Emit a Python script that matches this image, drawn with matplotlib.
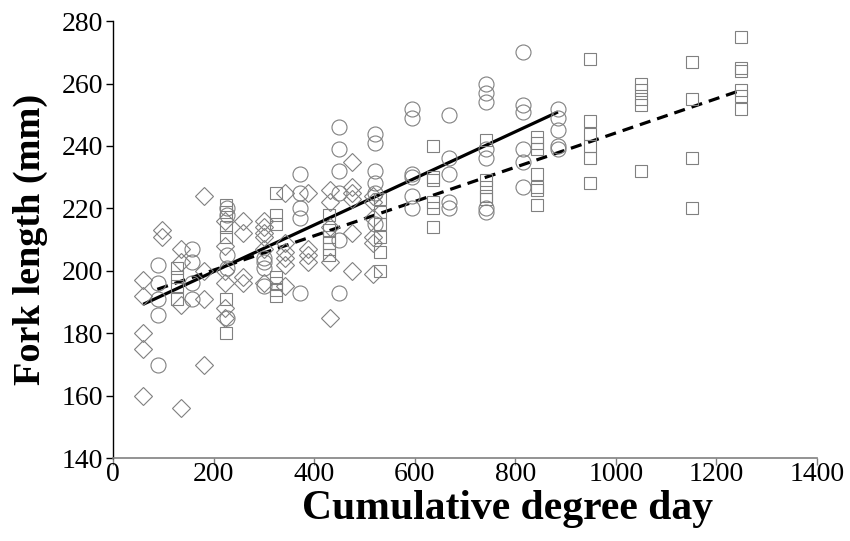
import numpy as np
import matplotlib
matplotlib.use("Agg")
import matplotlib.pyplot as plt

plt.rcParams["font.family"] = ["Liberation Serif", "DejaVu Serif"]

# diamonds: (cumulative degree day, fork length)
dia_x = [60] * 5 + [97] * 2 + [135] * 4 + [180] * 4 + [223] * 6 + [258] * 4 \
    + [300] * 6 + [343] * 6 + [388] * 4 + [431] * 5 + [475] * 6 + [518] * 6
dia_y = [197, 192, 180, 175, 160,
         213, 211,
         207, 203, 189, 156,
         224, 200, 191, 170,
         216, 208, 200, 196, 188, 185,
         216, 212, 198, 196,
         216, 214, 212, 211, 207, 196,
         225, 209, 206, 204, 202, 195,
         225, 207, 205, 203,
         226, 222, 214, 203, 185,
         235, 227, 225, 223, 212, 200,
         224, 222, 217, 211, 209, 199]

# circles
cir_x = [90] * 5 + [157] * 4 + [226] * 5 + [300] * 4 + [372] * 5 + [450] * 6 \
    + [521] * 6 + [594] * 6 + [668] * 5 + [742] * 7 + [815] * 6 + [885] * 5
cir_y = [202, 196, 191, 186, 170,
         207, 203, 196, 191,
         220, 218, 205, 201, 185,
         204, 203, 201, 195,
         231, 225, 220, 217, 193,
         246, 239, 232, 225, 210, 193,
         244, 241, 232, 228, 225, 215,
         252, 249, 231, 230, 224, 220,
         250, 236, 231, 222, 220,
         260, 257, 254, 239, 236, 220, 219,
         270, 253, 251, 239, 235, 227,
         252, 249, 245, 240, 239]

# squares
sq_x = [128] * 4 + [225] * 6 + [325] * 7 + [430] * 6 + [531] * 6 + [636] * 6 \
    + [742] * 5 + [843] * 7 + [948] * 6 + [1050] * 5 + [1151] * 4 + [1250] * 6
sq_y = [201, 198, 195, 191,
        221, 219, 214, 211, 191, 180,
        225, 218, 215, 198, 196, 194, 192,
        218, 213, 211, 209, 207, 205,
        223, 219, 215, 211, 206, 200,
        240, 230, 229, 222, 220, 214,
        242, 229, 227, 224, 223,
        243, 241, 239, 231, 227, 226, 221,
        268, 248, 244, 240, 236, 228,
        260, 258, 255, 253, 232,
        267, 255, 236, 220,
        275, 265, 264, 258, 256, 252]

# fitted lines (end points)
solid_x = [60, 885]
solid_y = [189.3, 250.9]
dash_x = [88, 1250]
dash_y = [194.1, 257.9]

xticks = np.arange(0, 1401, 200)
yticks = np.arange(140, 281, 20)

grey = "#808080"

fig = plt.figure(figsize=(8.5, 5.41), dpi=100)
ax = fig.add_axes([0.133, 0.153, 0.828, 0.808])

ax.plot(solid_x, solid_y, color="black", lw=2.3, solid_capstyle="butt", zorder=2)
ax.plot(dash_x, dash_y, color="black", lw=2.3, dashes=(3.5, 2.2), zorder=2)

mk = dict(linestyle="none", markerfacecolor="none", markeredgecolor=grey,
          markeredgewidth=0.8, zorder=3)
ax.plot(dia_x, dia_y, marker="D", markersize=9.0, **mk)
ax.plot(cir_x, cir_y, marker="o", markersize=10.8, **mk)
ax.plot(sq_x, sq_y, marker="s", markersize=9.2, **mk)

ax.set_xlim(0, 1400)
ax.set_ylim(140, 280)
ax.set_xticks(xticks)
ax.set_yticks(yticks)

for s in ["top", "right"]:
    ax.spines[s].set_visible(False)
ax.spines["bottom"].set_color(grey)
ax.spines["bottom"].set_linewidth(1.2)
ax.spines["left"].set_color("black")
ax.spines["left"].set_linewidth(1.0)

ax.tick_params(axis="x", direction="out", length=5, width=1.0, color=grey,
               labelsize=20, pad=-2)
ax.tick_params(axis="y", direction="out", length=5, width=1.0, color="black",
               labelsize=20, pad=2)

# axis titles placed as in the original (x title sits right of centre)
fig.text(507 / 850, 22 / 541, "Cumulative degree day", fontsize=30,
         fontweight="bold", ha="center", va="baseline")
ax.set_ylabel("Fork length (mm)", fontsize=27.5, fontweight="bold", labelpad=10)

fig.savefig("out.png", dpi=100)
